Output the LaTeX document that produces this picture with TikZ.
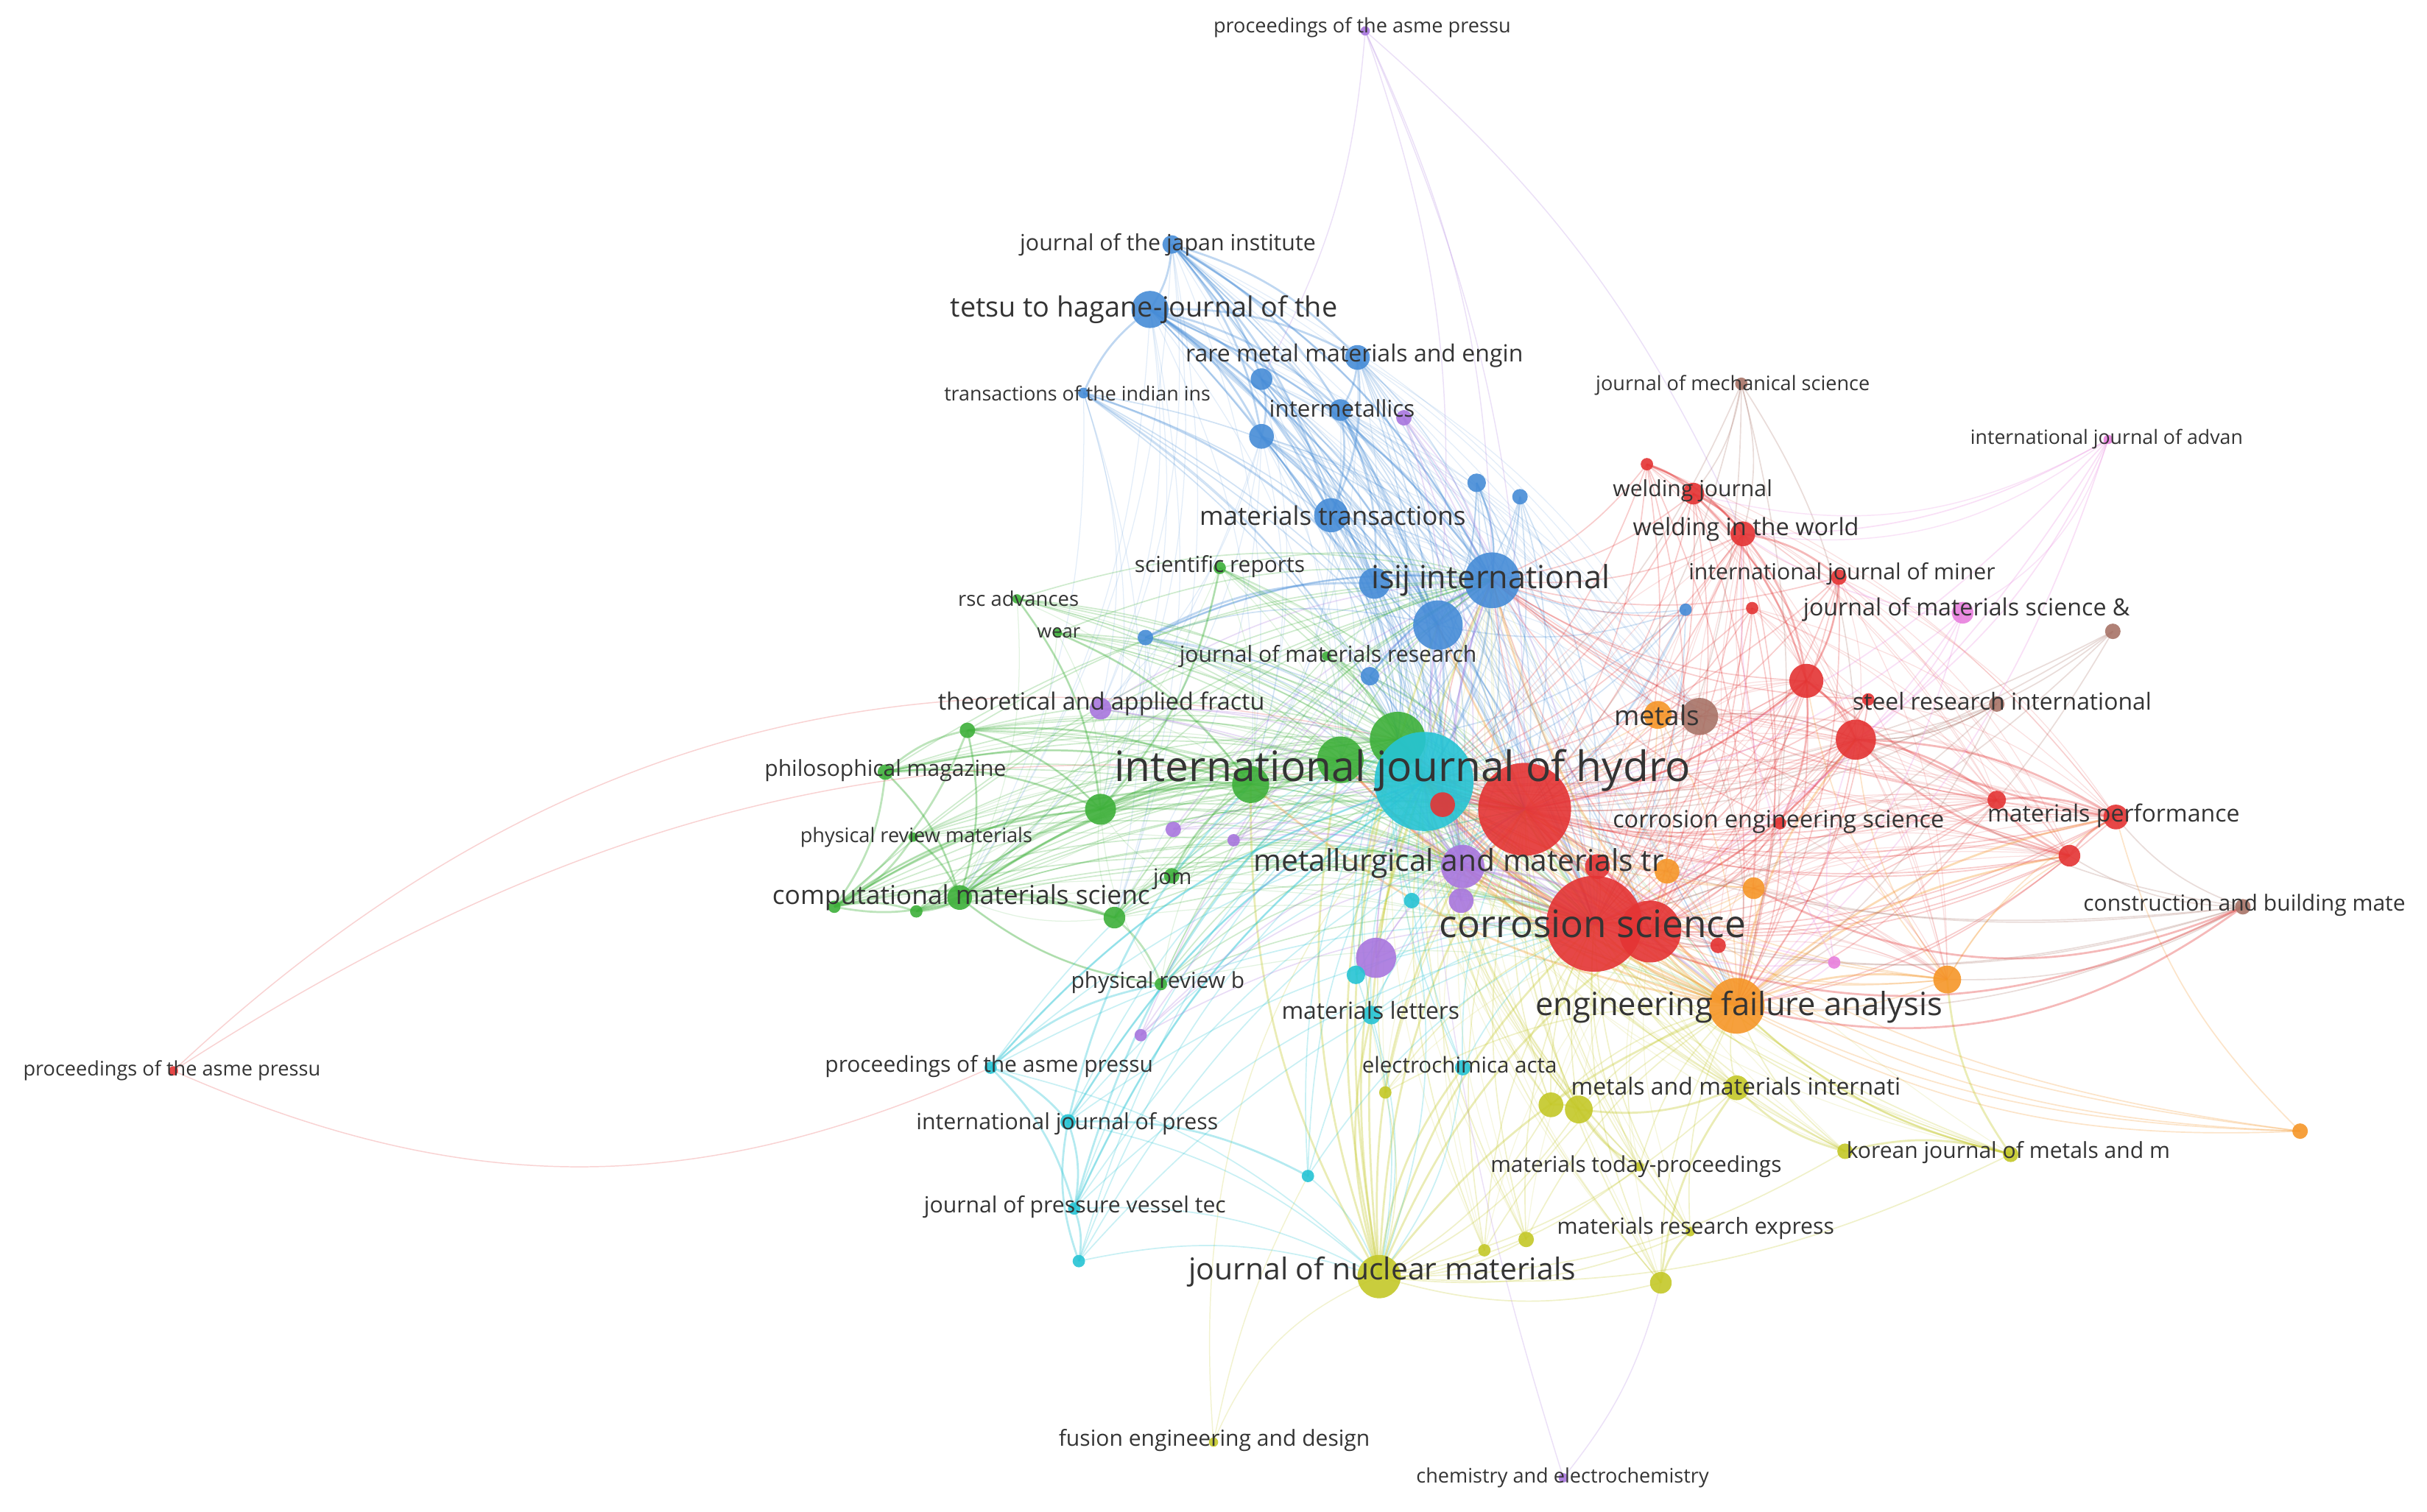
\documentclass[tikz,border=0pt]{standalone}
\usepackage{fontspec}
\setmainfont{Open Sans}
\usepackage{graphicx}
\usetikzlibrary{backgrounds}
\definecolor{cR}{RGB}{228,52,52}
\definecolor{cG}{RGB}{62,176,58}
\definecolor{cB}{RGB}{70,140,215}
\definecolor{cY}{RGB}{196,200,40}
\definecolor{cP}{RGB}{168,118,222}
\definecolor{cC}{RGB}{38,196,212}
\definecolor{cO}{RGB}{246,150,40}
\definecolor{cBr}{RGB}{168,116,104}
\definecolor{cPk}{RGB}{232,128,222}
\definecolor{txt}{RGB}{52,52,52}
\newcommand{\fitw}[2]{\resizebox{#1pt}{!}{#2}}
\newcommand{\vn}[5]{\node[nd,fill=#2,minimum size=#5pt] (#1) at (#3,#4) {};}
\newcommand{\vl}[5]{\node[lab] (#1) at (#2,#3) {\fitw{#4}{#5}};}
\tikzset{
  nd/.style={circle,inner sep=0pt,draw=none,fill opacity=0.9},
  lab/.style={inner sep=0pt,text=txt},
  e/.style={line width=0.8pt,draw opacity=0.25,bend left=15},
  ef/.style={line width=0.6pt,draw opacity=0.15,bend left=15},
  ew/.style={line width=1.3pt,draw opacity=0.34,bend left=15},
  el/.style={line width=0.7pt,draw opacity=0.22,bend left=22}
}
\begin{document}
\begin{tikzpicture}[x=1pt,y=-1pt]
\useasboundingbox (0,0) rectangle (1568,977);
% ---- blue
\vn{jpn}{cB}{757}{158}{12}
\vn{tetsu}{cB}{743}{200}{24}
\vn{rare}{cB}{877}{231}{16}
\vn{b1}{cB}{815}{245}{14}
\vn{tii}{cB}{700}{254}{7}
\vn{inter}{cB}{866}{265}{14}
\vn{b2}{cB}{815}{282}{16}
\vn{b3}{cB}{954}{312}{12}
\vn{b4}{cB}{982}{321}{10}
\vn{mtrans}{cB}{860}{333}{22}
\vn{isij}{cB}{964}{375}{36}
\vn{b5}{cB}{888}{377}{20}
\vn{b6}{cB}{929}{404}{32}
\vn{b7}{cB}{740}{412}{10}
\vn{b8}{cB}{885}{437}{12}
\vn{b9}{cB}{1089}{394}{8}
% ---- purple
\vn{p1}{cP}{907}{270}{10}
\vn{taf}{cP}{711}{458}{14}
\vn{p2}{cP}{758}{536}{10}
\vn{p3}{cP}{797}{543}{8}
\vn{mmt}{cP}{945}{560}{28}
\vn{p4}{cP}{944}{582}{16}
\vn{p5}{cP}{889}{619}{26}
\vn{p6}{cP}{737}{669}{8}
\vn{chem}{cP}{1010}{955}{6}
\vn{asmetop}{cP}{882}{20}{6}
% ---- green
\vn{sci}{cG}{788}{367}{8}
\vn{rsc}{cG}{657}{387}{6}
\vn{wear}{cG}{683}{409}{6}
\vn{jmr}{cG}{857}{424}{6}
\vn{g1}{cG}{625}{472}{10}
\vn{phil}{cG}{572}{499}{10}
\vn{g2}{cG}{903}{478}{36}
\vn{g3}{cG}{866}{491}{30}
\vn{g4}{cG}{808}{507}{24}
\vn{g5}{cG}{711}{523}{20}
\vn{prm}{cG}{590}{541}{6}
\vn{jom}{cG}{757}{566}{10}
\vn{comp}{cG}{620}{580}{16}
\vn{g6}{cG}{539}{586}{8}
\vn{g7}{cG}{592}{589}{8}
\vn{g8}{cG}{720}{593}{14}
\vn{prb}{cG}{750}{636}{8}
% ---- cyan
\vn{hydro}{cC}{920}{505}{64}
\vn{c1}{cC}{912}{582}{10}
\vn{c2}{cC}{876}{630}{12}
\vn{mlet}{cC}{886}{656}{12}
\vn{asmemid}{cC}{640}{690}{8}
\vn{eca}{cC}{945}{690}{10}
\vn{ijpress}{cC}{690}{725}{10}
\vn{c3}{cC}{845}{760}{8}
\vn{jpvt}{cC}{694}{781}{8}
\vn{c4}{cC}{697}{815}{8}
% ---- red
\vn{r1}{cR}{932}{520}{16}
\vn{rbig}{cR}{985}{523}{60}
\vn{r3}{cR}{1032}{560}{16}
\vn{corr}{cR}{1030}{597}{62}
\vn{r2}{cR}{1066}{602}{40}
\vn{r4}{cR}{1110}{611}{10}
\vn{r5}{cR}{1167}{440}{22}
\vn{r6}{cR}{1199}{478}{26}
\vn{r7}{cR}{1207}{452}{8}
\vn{ces}{cR}{1150}{532}{8}
\vn{mperf}{cR}{1367}{528}{16}
\vn{r8}{cR}{1290}{517}{12}
\vn{r9}{cR}{1337}{553}{14}
\vn{r10}{cR}{1064}{300}{8}
\vn{wj}{cR}{1094}{319}{14}
\vn{ww}{cR}{1126}{345}{16}
\vn{ijm}{cR}{1188}{373}{10}
\vn{r11}{cR}{1132}{393}{8}
\vn{asmeleft}{cR}{112}{692}{6}
% ---- orange
\vn{metals}{cO}{1071}{462}{18}
\vn{o1}{cO}{1077}{563}{16}
\vn{o2}{cO}{1133}{574}{14}
\vn{efa}{cO}{1122}{650}{36}
\vn{o3}{cO}{1258}{633}{18}
\vn{o4}{cO}{1486}{731}{10}
% ---- brown
\vn{br1}{cBr}{1098}{463}{24}
\vn{sri}{cBr}{1290}{455}{10}
\vn{cbm}{cBr}{1449}{586}{10}
\vn{jms}{cBr}{1125}{248}{8}
\vn{br2}{cBr}{1365}{408}{10}
% ---- pink
\vn{pk1}{cPk}{1185}{622}{8}
\vn{ijadv}{cPk}{1362}{284}{6}
\vn{jmse}{cPk}{1268}{396}{14}
% ---- yellow
\vn{y1}{cY}{895}{706}{8}
\vn{mmi}{cY}{1122}{703}{16}
\vn{y2}{cY}{1002}{714}{16}
\vn{y3}{cY}{1020}{717}{18}
\vn{mtp}{cY}{1059}{754}{6}
\vn{kj1}{cY}{1192}{744}{10}
\vn{kj2}{cY}{1299}{746}{10}
\vn{mre}{cY}{1092}{796}{6}
\vn{y4}{cY}{959}{808}{8}
\vn{y5}{cY}{986}{801}{10}
\vn{jnm}{cY}{891}{825}{28}
\vn{y6}{cY}{1073}{829}{14}
\vn{fus}{cY}{784}{932}{6}

\begin{pgfonlayer}{background}
\fill[white] (0,0) rectangle (1568,977);
% blue
\foreach \a in {jpn,tetsu,rare,b1,tii,inter,b2,b3,b4,mtrans,b5,b7,b8,b9}
  \foreach \b in {isij,b6,hydro,rbig,corr,mmt,g2}
    \draw[e,cB] (\a.center) to (\b.center);
\foreach \a in {jpn,tetsu,rare,b1,inter,b2,mtrans,b5}
  \foreach \b in {g3,g4,efa,r2,metals,br1}
    \draw[ef,cB] (\a.center) to (\b.center);
\foreach \a in {jpn,tetsu,tii,b2,b7}
  \foreach \b in {g5,comp,g8,taf}
    \draw[ef,cB] (\a.center) to (\b.center);
\foreach \a/\b in {jpn/tetsu,jpn/rare,jpn/b1,jpn/inter,jpn/b2,jpn/mtrans,tetsu/rare,tetsu/b1,tetsu/inter,tetsu/b2,tetsu/mtrans,tetsu/b5,rare/inter,rare/mtrans,b1/b2,inter/mtrans,inter/b5,b2/mtrans,mtrans/b5,b3/isij,b7/b5,b7/isij,tii/tetsu,tii/b5,b8/isij,inter/r1,isij/b6,isij/hydro,b6/hydro,tetsu/isij,tetsu/b6,jpn/isij}
  \draw[ew,cB] (\a.center) to (\b.center);
% green
\foreach \a in {sci,rsc,wear,jmr,g1,phil,g3,g4,g5,prm,jom,comp,g6,g7,g8,prb}
  \foreach \b in {g2,hydro,rbig,corr,mmt,isij}
    \draw[e,cG] (\a.center) to (\b.center);
\foreach \a in {sci,rsc,wear,jmr,g1,phil,prm,jom,g6,g7,g8,prb,taf}
  \foreach \b in {comp,g5,g4,g3,efa}
    \draw[ef,cG] (\a.center) to (\b.center);
\foreach \a/\b in {phil/g1,phil/comp,phil/g5,phil/g6,g1/g5,g1/comp,g1/g6,comp/g6,comp/g7,comp/g8,comp/g5,g6/g7,g6/g8,g7/g8,g5/g4,g8/jom,g8/prb,prm/comp,prm/g6,jom/g4,sci/g5,rsc/g5,wear/g4,g3/g4,prb/comp,g6/g5,g6/g4,phil/g4,g1/g4,g2/hydro,g3/hydro,g5/g3,comp/g4,comp/g3}
  \draw[ew,cG] (\a.center) to (\b.center);
% red
\foreach \a in {r1,r3,r4,r5,r6,r7,ces,mperf,r8,r9,r10,wj,ww,ijm,r11}
  \foreach \b in {rbig,corr,r2,hydro,efa,isij}
    \draw[e,cR] (\a.center) to (\b.center);
\foreach \a in {r1,r3,r4,r7,ces,r10,wj,ijm,r11,metals,o1,o2,br1,rbig,corr,r2}
  \foreach \b in {r5,r6,r8,r9,mperf,ww,o3}
    \draw[ef,cR] (\a.center) to (\b.center);
\foreach \a/\b in {wj/ww,wj/r5,ww/r5,ww/ijm,ijm/r5,r5/r6,r6/mperf,r6/r8,r8/mperf,r9/mperf,r9/r8,r10/wj,r10/ww,r5/ces,mperf/r5,r9/r6,rbig/corr,rbig/hydro,corr/hydro,corr/r2,rbig/r2,r6/corr,r5/rbig,corr/g2,rbig/g2,corr/g3,rbig/mmt,corr/mmt}
  \draw[ew,cR] (\a.center) to (\b.center);
\draw[el,cR,bend left=28] (asmeleft.center) to (g2.center);
\draw[el,cR,bend left=22] (asmeleft.center) to (rbig.center);
\draw[el,cR,bend right=24] (asmeleft.center) to (asmemid.center);
% orange
\foreach \a in {metals,o1,o2,o3,o4}
  \foreach \b in {corr,rbig,hydro,r2,efa}
    \draw[e,cO] (\a.center) to (\b.center);
\foreach \b in {corr,rbig,hydro,r2,mmt,isij,r6,r9,mperf,o3,g2,b6,g3,g4}
  \draw[ew,cO] (efa.center) to (\b.center);
\foreach \a/\b in {o3/r9,o3/mperf,o4/mperf,o3/r6,o3/r5}
  \draw[e,cO] (\a.center) to (\b.center);
% yellow
\foreach \a in {y1,mmi,y2,y3,mtp,kj1,kj2,mre,y4,y5,y6}
  \foreach \b in {jnm,corr,efa,hydro,rbig}
    \draw[e,cY] (\a.center) to (\b.center);
\foreach \a in {y1,mmi,y2,y3,mtp,kj1,kj2,mre,y4,y5,y6}
  \foreach \b in {r2,g2,mmt,isij}
    \draw[ef,cY] (\a.center) to (\b.center);
\foreach \b in {hydro,rbig,corr,g2,mmt,isij,efa,mlet,eca,g3,b6,g4,r2}
  \draw[ew,cY] (jnm.center) to (\b.center);
\foreach \a/\b in {kj1/kj2,kj1/mmi,mmi/y3,y2/y3,mtp/y3,y6/mre,y6/mmi,kj2/efa,kj2/o3}
  \draw[ew,cY] (\a.center) to (\b.center);
\foreach \b in {jnm,hydro}
  \draw[el,cY] (fus.center) to (\b.center);
\draw[el,cY,bend left=8] (fus.center) to (c3.center);
% cyan
\foreach \a in {c1,c2,mlet,asmemid,eca,ijpress,c3,jpvt,c4}
  \foreach \b in {hydro,g2,rbig,corr,jnm}
    \draw[e,cC] (\a.center) to (\b.center);
\foreach \a/\b in {asmemid/ijpress,ijpress/jpvt,jpvt/c4,asmemid/jpvt,ijpress/c3,c4/ijpress,asmemid/prb,ijpress/hydro,jpvt/hydro,asmemid/hydro,ijpress/g4,jpvt/g3}
  \draw[ew,cC] (\a.center) to (\b.center);
% purple
\foreach \a in {p1,taf,p2,p3,p4,p5,p6}
  \foreach \b in {hydro,corr,rbig,isij,mmt}
    \draw[e,cP] (\a.center) to (\b.center);
\foreach \b in {hydro,corr,rbig,isij,g2,efa,b6,r2}
  \draw[ew,cP] (mmt.center) to (\b.center);
\draw[el,cP,bend right=12] (chem.center) to (y6.center);
\draw[el,cP,bend left=6] (chem.center) to (hydro.center);
\foreach \b in {isij,rbig,b1,b6,ww}
  \draw[el,cP,bend left=12] (asmetop.center) to (\b.center);
% brown
\foreach \a in {br1,sri,cbm,jms,br2}
  \foreach \b in {corr,rbig,efa,r6,hydro}
    \draw[e,cBr] (\a.center) to (\b.center);
\foreach \a/\b in {jms/wj,jms/ww,cbm/mperf,cbm/r9,sri/r6,sri/r5,br1/metals,cbm/r2,cbm/o3}
  \draw[e,cBr] (\a.center) to (\b.center);
\foreach \a/\b in {cbm/efa,cbm/corr,cbm/o2}
  \draw[ew,cR,bend left=25] (\a.center) to (\b.center);
% pink
\foreach \a in {pk1,ijadv,jmse}
  \foreach \b in {corr,rbig,ww,r6,efa}
    \draw[e,cPk] (\a.center) to (\b.center);
\foreach \a/\b in {ijadv/jmse,ijadv/wj,jmse/ijm,ijadv/ww}
  \draw[el,cPk] (\a.center) to (\b.center);
\end{pgfonlayer}

% ---- labels
\vl{Lasmetop}{880}{18}{192}{proceedings of the asme pressu}
\vl{Ljpn}{754.5}{158}{191}{journal of the japan institute}
\vl{Ltetsu}{739}{200}{250}{tetsu to hagane-journal of the}
\vl{Lrare}{875}{230}{218}{rare metal materials and engin}
\vl{Ltii}{696}{254}{172}{transactions of the indian ins}
\vl{Linter}{867}{264}{94}{intermetallics}
\vl{Ljms}{1119.5}{249}{177}{journal of mechanical science}
\vl{Lijadv}{1361}{284}{176}{international journal of advan}
\vl{Lwj}{1093.5}{317}{103}{welding journal}
\vl{Lmtrans}{861}{333}{172}{materials transactions}
\vl{Lww}{1128}{342}{146}{welding in the world}
\vl{Lsci}{788}{366}{110}{scientific reports}
\vl{Lisij}{963}{375}{154}{isij international}
\vl{Lijm}{1190}{371}{198}{international journal of miner}
\vl{Lrsc}{658}{387}{78}{rsc advances}
\vl{Ljmse}{1270.5}{394}{211}{journal of materials science \&}
\vl{Lwear}{684}{409}{28}{wear}
\vl{Ljmr}{858}{424}{192}{journal of materials research}
\vl{Ltaf}{711.5}{455}{211}{theoretical and applied fractu}
\vl{Lmetals}{1070.5}{462}{55}{metals}
\vl{Lsri}{1293.5}{453}{193}{steel research international}
\vl{Lhydro}{906}{498}{372}{international journal of hydro}
\vl{Lphil}{572}{498}{156}{philosophical magazine}
\vl{Lmperf}{1365.5}{527}{163}{materials performance}
\vl{Lces}{1149}{531}{214}{corrosion engineering science}
\vl{Lprm}{592}{541}{150}{physical review materials}
\vl{Lmmt}{942.5}{558}{265}{metallurgical and materials tr}
\vl{Ljom}{757.5}{568}{25}{jom}
\vl{Lcomp}{621}{580}{244}{computational materials scienc}
\vl{Lcbm}{1450}{585}{208}{construction and building mate}
\vl{Lcorr}{1029}{597}{198}{corrosion science}
\vl{Lprb}{748}{635}{112}{physical review b}
\vl{Lefa}{1123.5}{651}{263}{engineering failure analysis}
\vl{Lmlet}{885.5}{653}{115}{materials letters}
\vl{Lasmeleft}{111}{692}{192}{proceedings of the asme pressu}
\vl{Lasmemid}{639}{689}{212}{proceedings of the asme pressu}
\vl{Leca}{943}{688}{126}{electrochimica acta}
\vl{Lmmi}{1121.5}{702}{213}{metals and materials internati}
\vl{Lijpress}{689.5}{726}{195}{international journal of press}
\vl{Lkj}{1297.5}{745}{209}{korean journal of metals and m}
\vl{Lmtp}{1057}{754}{188}{materials today-proceedings}
\vl{Ljpvt}{694.5}{780}{195}{journal of pressure vessel tec}
\vl{Lmre}{1095.5}{794}{179}{materials research express}
\vl{Ljnm}{893}{822}{250}{journal of nuclear materials}
\vl{Lfus}{784.5}{931}{201}{fusion engineering and design}
\vl{Lchem}{1009.5}{955}{189}{chemistry and electrochemistry}
\end{tikzpicture}
\end{document}
